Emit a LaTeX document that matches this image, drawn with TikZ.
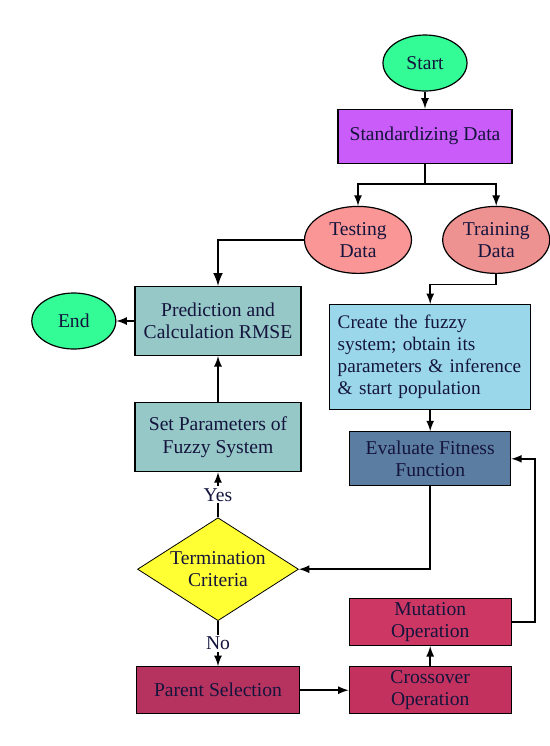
\documentclass[tikz,border=0pt]{standalone}
\usepackage{fontspec}
\setmainfont{Liberation Serif}
\usetikzlibrary{shapes.geometric,positioning}
\definecolor{termgreen}{RGB}{51,252,150}
\definecolor{stdpurple}{RGB}{202,92,250}
\definecolor{testred}{RGB}{250,150,150}
\definecolor{trainred}{RGB}{238,145,145}
\definecolor{predteal}{RGB}{150,200,200}
\definecolor{createblue}{RGB}{155,215,235}
\definecolor{evalblue}{RGB}{92,125,162}
\definecolor{decyellow}{RGB}{255,255,51}
\definecolor{parentred}{RGB}{182,50,95}
\definecolor{crossred}{RGB}{195,50,95}
\definecolor{mutred}{RGB}{205,55,100}
\definecolor{inkblue}{RGB}{20,20,60}
\tikzstyle{terminal} = [ellipse, text centered, draw=black, semithick, fill=termgreen, minimum width=42pt, minimum height=28pt, inner sep=0pt]
\tikzstyle{data} = [ellipse, align=center, draw=black, semithick, minimum width=53.5pt, minimum height=33.5pt, inner sep=0pt]
\tikzstyle{process} = [rectangle, align=center, draw=black, semithick, inner sep=1pt]
\tikzstyle{decision} = [diamond, aspect=1.6, align=center, draw=black, thin, fill=decyellow, minimum width=80.5pt, minimum height=51.5pt, inner sep=0pt]
\tikzstyle{arrow} = [thick,->,>=latex]

\begin{document}
\begin{tikzpicture}[font=\fontsize{9.8}{11.2}\selectfont, text=inkblue]
  \useasboundingbox (0,0) rectangle (275pt,-373pt);
  \node (start) [terminal] at (212.5pt,-31.5pt) {Start};
  \node (standard) [process, fill=stdpurple, minimum width=87pt, minimum height=27pt, below=8.5pt of start] {Standardizing Data};
  \node (testing) [data, fill=testred, below=21pt of standard, xshift=-33.5pt] {Testing\\Data};
  \node (training) [data, fill=trainred, right=15pt of testing] {Training\\Data};
  \node (create) [process, fill=createblue, text width=96.5pt, align=left, inner xsep=2pt, inner ysep=2pt, minimum height=52.5pt, below=15pt of training, xshift=-33pt, font=\fontsize{9.6}{11}\selectfont] {\hspace{2pt}Create the fuzzy\\\hspace{2pt}system; obtain its\\\hspace{2pt}parameters \& inference\\\hspace{2pt}\& start population};
  \node (evaluate) [process, fill=evalblue, minimum width=80.5pt, minimum height=27pt, below=10.5pt of create] {Evaluate Fitness\\Function};

  \node (predict) [process, fill=predteal, minimum width=83pt, minimum height=34.5pt] at (109pt,-160.5pt) {Prediction and\\Calculation RMSE};
  \node (end) [terminal, left=9pt of predict] {End};
  \node (setparam) [process, fill=predteal, minimum width=83pt, minimum height=34.5pt, below=23pt of predict] {Set Parameters of\\Fuzzy System};
  \node (termination) [decision, below=22.5pt of setparam] {Termination\\Criteria};
  \node (parent) [process, fill=parentred, minimum width=81.5pt, minimum height=23.5pt, below=22.5pt of termination] {Parent Selection};
  \node (crossover) [process, fill=crossred, minimum width=81pt, minimum height=23.5pt, right=24.25pt of parent] {Crossover\\Operation};
  \node (mutation) [process, fill=mutred, minimum width=81pt, minimum height=23.5pt, above=10pt of crossover] {Mutation\\Operation};

  \draw [arrow] (start) -- (standard);
  \draw [arrow] (standard.south) -- ++(0,-10pt) -| (testing.north);
  \draw [arrow] (standard.south) -- ++(0,-10pt) -| (training.north);
  \draw [arrow, very thick] (testing.west) -| (predict.north);
  \draw [arrow] (training.south) -- ++(0,-5.25pt) -| (create.north);
  \draw [arrow] (create) -- (evaluate);
  \draw [arrow] (evaluate.south) |- (termination.east);
  \draw [arrow] (termination) -- node[fill=white, inner sep=1pt] {Yes} (setparam);
  \draw [arrow] (termination) -- node[fill=white, inner sep=1pt] {No} (parent);
  \draw [arrow] (setparam) -- (predict);
  \draw [arrow] (predict) -- (end);
  \draw [arrow] (parent) -- (crossover);
  \draw [arrow] (crossover) -- (mutation);
  \draw [arrow] (mutation.east) -- ++(11.5pt,0) |- (evaluate.east);
\end{tikzpicture}
\end{document}
